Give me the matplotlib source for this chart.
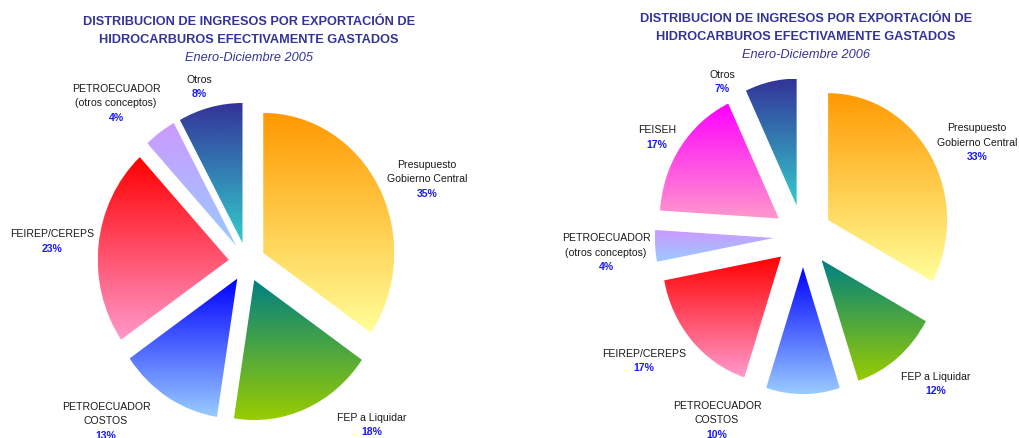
import numpy as np
import matplotlib
matplotlib.use('Agg')
import matplotlib.pyplot as plt
from matplotlib.colors import to_rgb

plt.rcParams['font.family'] = ['Liberation Sans', 'DejaVu Sans']

W, H = 1019, 439

# Enero-Diciembre 2005
names_05 = ['Presupuesto\nGobierno Central', 'FEP a Liquidar', 'PETROECUADOR\nCOSTOS',
            'FEIREP/CEREPS', 'PETROECUADOR\n(otros conceptos)', 'Otros']
values_05 = [35, 18, 13, 23, 4, 8]
top_05 = ['#FF9900', '#008080', '#0000FF', '#FF0000', '#CC99FF', '#333399']
bot_05 = ['#FFFF99', '#99CC00', '#99CCFF', '#FF99CC', '#99CCFF', '#33CCCC']

# Enero-Diciembre 2006
names_06 = ['Presupuesto\nGobierno Central', 'FEP a Liquidar', 'PETROECUADOR\nCOSTOS',
            'FEIREP/CEREPS', 'PETROECUADOR\n(otros conceptos)', 'FEISEH', 'Otros']
values_06 = [33, 12, 10, 17, 4, 17, 7]
top_06 = ['#FF9900', '#008080', '#0000FF', '#FF0000', '#CC99FF', '#FF00FF', '#333399']
bot_06 = ['#FFFF99', '#99CC00', '#99CCFF', '#FF99CC', '#99CCFF', '#FF99CC', '#33CCCC']

title = 'DISTRIBUCION DE INGRESOS POR EXPORTACIÓN DE\nHIDROCARBUROS EFECTIVAMENTE GASTADOS'
subtitles = ['Enero-Diciembre 2005', 'Enero-Diciembre 2006']

# label anchor (pixel x, pixel y of first line)
pos_05 = [(427, 165), (372, 418), (106, 407), (52, 234), (116, 89), (199, 80)]
pos_06 = [(977, 128), (936, 377), (717, 406), (644, 354), (606, 238), (657, 130), (722, 75)]

fig = plt.figure(figsize=(W / 100, H / 100), dpi=100)
fig.patch.set_facecolor('white')

grad = np.linspace(0, 1, 256)[:, None, None]


def draw_pie(rect, xlim, ylim, values, tops, bots, explode):
    ax = fig.add_axes(rect)
    wedges, _ = ax.pie(values, startangle=90, counterclock=False,
                       explode=[explode] * len(values), radius=1)
    for w, c1, c2 in zip(wedges, tops, bots):
        w.set_facecolor('none')
        w.set_edgecolor('none')
        bb = w.get_path().transformed(w.get_patch_transform()).get_extents()
        rgb = np.array(to_rgb(c1)) * (1 - grad) + np.array(to_rgb(c2)) * grad
        ax.imshow(rgb, extent=(bb.x0, bb.x1, bb.y0, bb.y1), aspect='auto',
                  interpolation='bilinear', clip_path=w, zorder=1)
    ax.set_aspect('auto')
    ax.set_xlim(*xlim)
    ax.set_ylim(*ylim)
    ax.axis('off')
    return ax


# left pie: centre ~ (247, 263) px, radii 131 x 140 px
draw_pie([0, 0, 509 / W, 1], (-247 / 131, 262 / 131), (-176 / 140, 263 / 140),
         values_05, top_05, bot_05, 0.14)
# right pie: centre ~ (803, 237) px, radii 119 x 127 px
draw_pie([509 / W, 0, 510 / W, 1], (-294 / 119, 216 / 119), (-202 / 127, 237 / 127),
         values_06, top_06, bot_06, 0.245)


def px(x, y):
    return x / W, 1 - y / H


step = 14.5
for names, values, pos in [(names_05, values_05, pos_05), (names_06, values_06, pos_06)]:
    for name, v, (x, y) in zip(names, values, pos):
        lines = name.split('\n')
        for i, ln in enumerate(lines):
            fig.text(*px(x, y + i * step), ln, ha='center', va='center',
                     fontsize=7.6, color='#1a1a1a')
        fig.text(*px(x, y + len(lines) * step), f'{v}%', ha='center', va='center',
                 fontsize=7.6, fontweight='bold', color='#1a1aff')

for cx, ty, sub in [(249, 22, subtitles[0]), (806, 19, subtitles[1])]:
    for i, ln in enumerate(title.split('\n')):
        fig.text(*px(cx, ty + i * 18), ln, ha='center', va='center',
                 fontsize=9.2, fontweight='bold', color='#333399')
    fig.text(*px(cx, ty + 36), sub, ha='center', va='center',
             fontsize=9.2, style='italic', color='#333399')

fig.savefig('out.png', dpi=100, facecolor='white')
